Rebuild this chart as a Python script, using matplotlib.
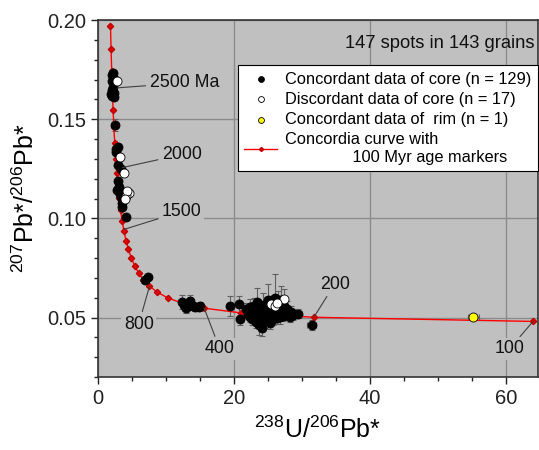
import matplotlib
matplotlib.use('Agg')
import matplotlib.pyplot as plt
from matplotlib.ticker import MultipleLocator, FormatStrFormatter

plt.rcParams['font.family'] = ['Liberation Sans', 'DejaVu Sans']
plt.rcParams['mathtext.fontset'] = 'custom'
plt.rcParams['mathtext.rm'] = 'Liberation Sans'
plt.rcParams['mathtext.it'] = 'Liberation Sans'

# concordia markers every 100 Myr (age, 238U/206Pb, 207Pb/206Pb)
curve_age = [100, 200, 300, 400, 500, 600, 700, 800, 900, 1000, 1100, 1200, 1300, 1400,
             1500, 1600, 1700, 1800, 1900, 2000, 2100, 2200, 2300, 2400, 2500, 2600, 2700, 2800]
curve_x = [63.97, 31.735, 20.992, 15.621, 12.399, 10.252, 8.718, 7.568, 6.674, 5.959, 5.375,
           4.888, 4.476, 4.123, 3.817, 3.549, 3.314, 3.104, 2.917, 2.749, 2.597, 2.459, 2.332,
           2.217, 2.111, 2.013, 1.922, 1.838]
curve_y = [0.04802, 0.05011, 0.05233, 0.05470, 0.05722, 0.05990, 0.06276, 0.06580, 0.06904,
           0.07250, 0.07619, 0.08013, 0.08433, 0.08880, 0.09358, 0.09871, 0.10418, 0.11003,
           0.11629, 0.12299, 0.13015, 0.13781, 0.14602, 0.15481, 0.16423, 0.17432, 0.18520,
           0.19683]

# concordant core analyses
conc_x = [2.0, 2.2, 2.3, 2.1, 2.2, 1.9, 2.1, 2.3, 2.0, 2.4,
          2.45,
          2.9, 2.6, 2.7, 3.4, 3.0, 2.9, 3.1, 3.2, 2.8, 3.4, 3.6, 3.6, 3.3, 4.1,
          7.3, 6.9,
          12.4, 12.8, 13.2, 13.6, 13.9, 14.3, 14.8, 13.0, 12.6, 15.0,
          19.4, 20.7, 20.9,
          21.8, 22.0, 22.3, 22.4, 22.6, 22.7, 22.9, 23.0, 23.1, 23.2, 23.3, 23.4, 23.5, 23.6,
          23.7, 23.8, 23.9, 24.0, 24.1, 24.2, 24.3, 24.4, 24.5, 24.6, 24.7, 24.8, 24.9, 25.0,
          25.1, 25.2, 25.3, 25.4, 25.5, 25.6, 25.7, 25.8, 25.9, 26.0, 26.1, 26.2, 26.3, 26.4,
          26.5, 26.6, 26.7, 26.8, 26.9, 27.0, 27.2, 27.3, 27.4, 27.6, 27.8, 28.0, 28.2, 28.4,
          28.7, 29.4, 31.4]
conc_y = [0.1724, 0.1735, 0.1705, 0.1690, 0.1660, 0.1628, 0.1615, 0.1632, 0.1645, 0.1612,
          0.1472,
          0.1362, 0.1335, 0.1350, 0.1250, 0.1270, 0.1186, 0.1160, 0.1136, 0.1145, 0.1106,
          0.1075, 0.1055, 0.1125, 0.1005,
          0.0703, 0.0690,
          0.0580, 0.0560, 0.0570, 0.0585, 0.0560, 0.0555, 0.0553, 0.0548, 0.0565, 0.0558,
          0.0558, 0.0568, 0.0493,
          0.0545, 0.0520, 0.0555, 0.0505, 0.0530, 0.0490, 0.0560, 0.0515, 0.0540, 0.0475,
          0.0500, 0.0580, 0.0525, 0.0550, 0.0460, 0.0510, 0.0535, 0.0495, 0.0447, 0.0565,
          0.0520, 0.0545, 0.0505, 0.0485, 0.0530, 0.0555, 0.0515, 0.0590, 0.0540, 0.0500,
          0.0470, 0.0525, 0.0560, 0.0510, 0.0545, 0.0490, 0.0530, 0.0600, 0.0515, 0.0550,
          0.0495, 0.0535, 0.0575, 0.0520, 0.0505, 0.0545, 0.0590, 0.0525, 0.0510, 0.0560,
          0.0535, 0.0515, 0.0545, 0.0525, 0.0505, 0.0530, 0.0515, 0.0520, 0.0462]
conc_sx = [0.05, 0.05, 0.05, 0.05, 0.05, 0.05, 0.05, 0.05, 0.05, 0.05,
           0.05,
           0.05, 0.05, 0.05, 0.06, 0.06, 0.06, 0.06, 0.06, 0.06, 0.07, 0.07, 0.07, 0.06, 0.08,
           0.2, 0.2,
           0.3, 0.3, 0.3, 0.3, 0.3, 0.3, 0.3, 0.3, 0.3, 0.3,
           0.4, 0.4, 0.4,
           0.5, 0.5, 0.5, 0.5, 0.5, 0.5, 0.5, 0.5, 0.5, 0.5, 0.5, 0.5, 0.5, 0.5,
           0.5, 0.5, 0.5, 0.5, 0.5, 0.5, 0.5, 0.5, 0.5, 0.5, 0.5, 0.5, 0.5, 0.5,
           0.5, 0.5, 0.5, 0.5, 0.5, 0.5, 0.5, 0.5, 0.5, 0.5, 0.5, 0.5, 0.5, 0.5,
           0.5, 0.5, 0.5, 0.5, 0.5, 0.5, 0.5, 0.5, 0.5, 0.5, 0.5, 0.5, 0.5, 0.5,
           0.5, 0.6, 0.6]
conc_sy = [0.0010, 0.0010, 0.0010, 0.0010, 0.0010, 0.0010, 0.0010, 0.0010, 0.0010, 0.0010,
           0.0030,
           0.0012, 0.0012, 0.0012, 0.0012, 0.0012, 0.0012, 0.0012, 0.0012, 0.0012, 0.0012,
           0.0012, 0.0012, 0.0012, 0.0012,
           0.0010, 0.0010,
           0.0035, 0.0025, 0.0020, 0.0030, 0.0020, 0.0020, 0.0020, 0.0025, 0.0020, 0.0020,
           0.0050, 0.0040, 0.0030,
           0.0030, 0.0030, 0.0040, 0.0030, 0.0050, 0.0030, 0.0040, 0.0030, 0.0060, 0.0030,
           0.0040, 0.0070, 0.0030, 0.0040, 0.0050, 0.0030, 0.0040, 0.0030, 0.0040, 0.0060,
           0.0030, 0.0040, 0.0030, 0.0040, 0.0030, 0.0050, 0.0030, 0.0080, 0.0030, 0.0040,
           0.0030, 0.0030, 0.0050, 0.0030, 0.0040, 0.0030, 0.0040, 0.0120, 0.0030, 0.0050,
           0.0030, 0.0040, 0.0060, 0.0030, 0.0040, 0.0030, 0.0070, 0.0030, 0.0030, 0.0040,
           0.0030, 0.0030, 0.0040, 0.0030, 0.0030, 0.0030, 0.0030, 0.0025, 0.0025]

# discordant core analyses
disc_x = [2.8, 3.3, 3.8, 4.6, 4.1, 4.3, 3.9, 25.5, 27.3, 26.0, 26.3]
disc_y = [0.1693, 0.1307, 0.1231, 0.1128, 0.1115, 0.1140, 0.1100, 0.0568, 0.0593, 0.0558, 0.0575]
disc_sx = [0.05, 0.15, 0.06, 0.3, 0.3, 0.3, 0.3, 0.5, 0.5, 0.5, 0.5]
disc_sy = [0.0010, 0.0012, 0.0012, 0.0012, 0.0012, 0.0012, 0.0012, 0.0040, 0.0050, 0.0030, 0.0040]

# concordant rim analysis
rim_x = [55.2]
rim_y = [0.0503]
rim_sx = [0.8]
rim_sy = [0.0008]

age_labels = ['2500 Ma', '2000', '1500', '800', '400', '200', '100']
label_xy = [(2.9, 0.1658), (3.6, 0.1256), (3.9, 0.0945), (7.57, 0.0658), (15.62, 0.0547),
            (31.73, 0.0501), (63.97, 0.0480)]
label_text_xy = [(7.6, 0.1683), (9.4, 0.1322), (9.4, 0.1035), (6.0, 0.0467), (17.9, 0.0342),
                 (34.8, 0.0668), (60.5, 0.0342)]
label_ha = ['left', 'left', 'left', 'center', 'center', 'center', 'center']

bg = '#c0c0c0'
fig = plt.figure(figsize=(5.39, 4.5), dpi=100)
ax = fig.add_axes([98 / 539, 73 / 450, 440 / 539, 357 / 450])
ax.set_facecolor(bg)

ax.grid(True, which='major', color='#8c8c8c', lw=1.0, zorder=0)
ax.set_axisbelow(True)

ebkw = dict(ecolor='#606060', elinewidth=0.8, capsize=2.2, capthick=0.8, ls='none', zorder=2)
ax.errorbar(conc_x, conc_y, xerr=conc_sx, yerr=conc_sy, **ebkw)
ax.errorbar(disc_x, disc_y, xerr=disc_sx, yerr=disc_sy, **ebkw)
ax.errorbar(rim_x, rim_y, xerr=rim_sx, yerr=rim_sy, **ebkw)

ax.plot(curve_x, curve_y, color='red', lw=1.0, marker='D', ms=3.2, mfc='#e00000',
        mec='#c00000', zorder=3, label='Concordia curve with\n' + ' ' * 15 + '100 Myr age markers')
ax.scatter(conc_x, conc_y, s=42, c='black', edgecolors='black', lw=0.6, zorder=4,
           label='Concordant data of core (n = 129)')
ax.scatter(disc_x, disc_y, s=42, c='white', edgecolors='black', lw=0.6, zorder=5,
           label='Discordant data of core (n = 17)')
ax.scatter(rim_x, rim_y, s=42, c='yellow', edgecolors='black', lw=0.6, zorder=5,
           label='Concordant data of  rim (n = 1)')

for txt, xy, xyt, ha in zip(age_labels, label_xy, label_text_xy, label_ha):
    ax.annotate(txt, xy=xy, xytext=xyt, ha=ha, va='center', fontsize=12.8, color='#111111',
                arrowprops=dict(arrowstyle='-', color='#404040', lw=0.8, shrinkA=1, shrinkB=0),
                bbox=dict(boxstyle='square,pad=0.15', fc=bg, ec='none'), zorder=6)

ax.text(0.992, 0.935, '147 spots in 143 grains', transform=ax.transAxes, ha='right',
        va='center', fontsize=13.2, color='#111111')

handles, labels = ax.get_legend_handles_labels()
order = [1, 2, 3, 0]
leg = ax.legend([handles[i] for i in order], [labels[i] for i in order],
                loc='upper left', bbox_to_anchor=(0.318, 0.874), fontsize=11.8,
                frameon=True, fancybox=False, framealpha=1, edgecolor='black',
                handlelength=2.0, handletextpad=0.5, borderpad=0.4, labelspacing=0.32,
                markerscale=0.65, borderaxespad=0)
leg.get_frame().set_linewidth(0.8)
leg.set_zorder(7)

ax.set_xlim(0, 64.7)
ax.set_ylim(0.02, 0.20)
ax.xaxis.set_major_locator(MultipleLocator(20))
ax.xaxis.set_minor_locator(MultipleLocator(5))
ax.yaxis.set_major_locator(MultipleLocator(0.05))
ax.yaxis.set_minor_locator(MultipleLocator(0.01))
ax.yaxis.set_major_formatter(FormatStrFormatter('%.2f'))
ax.tick_params(which='major', direction='out', length=5, width=1, labelsize=14.5, colors='#222222')
ax.tick_params(which='minor', direction='out', length=3, width=1, colors='#222222')
for s in ax.spines.values():
    s.set_color('#333333')
    s.set_linewidth(1.2)

ax.set_xlabel(r'$^{238}$U/$^{206}$Pb*', fontsize=18, labelpad=6)
ax.set_ylabel(r'$^{207}$Pb*/$^{206}$Pb*', fontsize=18, labelpad=6)

fig.savefig('out.png', dpi=100)
